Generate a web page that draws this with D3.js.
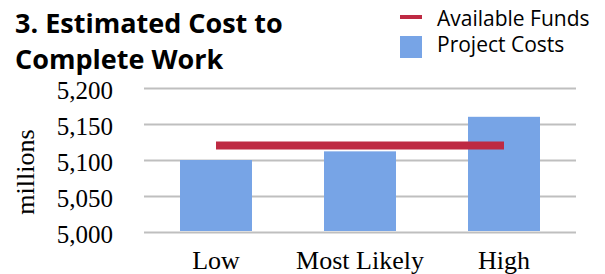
<!DOCTYPE html>
<html>
<head>
<meta charset="utf-8">
<script src="https://cdn.jsdelivr.net/npm/d3@7"></script>
<style>
  body { margin: 0; background: #fff; }
  svg { display: block; }
</style>
</head>
<body>
<div id="chart"></div>
<script>
// chart values
var categories = ["Low", "Most Likely", "High"];
var projectCosts = [5100, 5112, 5160];
var availableFunds = [5120, 5120, 5120];
var yTicks = [5000, 5050, 5100, 5150, 5200];
var titleLines = ["3. Estimated Cost to", "Complete Work"];
var seriesNames = ["Available Funds", "Project Costs"];

var W = 605, H = 274;
var margin = {top: 88, right: 29, bottom: 42, left: 144},
    width = W - margin.left - margin.right,
    height = H - margin.top - margin.bottom;

var svg = d3.select("#chart")
  .append("svg")
    .attr("width", W)
    .attr("height", H);

var g = svg.append("g")
    .attr("transform", "translate(" + margin.left + "," + margin.top + ")");

// scales
var x = d3.scaleBand()
  .domain(categories)
  .range([0, width])
  .paddingInner(0.5)
  .paddingOuter(0.25);

var y = d3.scaleLinear()
  .domain([5000, 5200])
  .range([height, 0]);

// Y axis + gridlines
var yAxis = g.append("g")
  .call(d3.axisLeft(y)
    .tickValues(yTicks)
    .tickFormat(d3.format(","))
    .tickSize(-width)
    .tickPadding(31));
yAxis.select(".domain").remove();
yAxis.selectAll(".tick line")
  .attr("stroke", "#bfbfbf")
  .attr("stroke-width", 2);
yAxis.selectAll(".tick text")
  .attr("dy", "0.4em")
  .style("font-family", "'Liberation Serif', serif")
  .style("font-size", "25px")
  .style("fill", "#000");

// bars
g.selectAll("rect.bar")
  .data(projectCosts)
  .enter()
  .append("rect")
    .attr("class", "bar")
    .attr("x", function(d, i) { return x(categories[i]); })
    .attr("y", function(d) { return y(d); })
    .attr("width", x.bandwidth())
    .attr("height", function(d) { return y(5000) - y(d) - 1; })
    .style("fill", "#77a4e6");

// funds line
var line = d3.line()
  .x(function(d, i) { return x(categories[i]) + x.bandwidth() / 2; })
  .y(function(d) { return y(d); });

g.append("path")
  .datum(availableFunds)
  .attr("d", line)
  .attr("fill", "none")
  .attr("stroke", "#be2a43")
  .attr("stroke-width", 8);

// X axis
var xAxis = g.append("g")
  .attr("transform", "translate(0," + height + ")")
  .call(d3.axisBottom(x).tickSize(0).tickPadding(18.5));
xAxis.select(".domain").remove();
xAxis.selectAll(".tick text")
  .style("font-family", "'Liberation Serif', serif")
  .style("font-size", "26px")
  .style("fill", "#000");

// y label
svg.append("text")
  .attr("transform", "translate(33.5,172) rotate(-90)")
  .attr("text-anchor", "middle")
  .style("font-family", "'Liberation Serif', serif")
  .style("font-size", "26px")
  .text("millions");

// title
svg.selectAll("text.title")
  .data(titleLines)
  .enter()
  .append("text")
    .attr("class", "title")
    .attr("x", 15)
    .attr("y", function(d, i) { return 33 + i * 36; })
    .style("font-family", "'Open Sans', sans-serif")
    .style("font-weight", "bold")
    .style("font-size", "27px")
    .style("fill", "#000")
    .text(function(d) { return d; });

// legend
var legend = svg.append("g");
legend.append("rect")
  .attr("x", 400).attr("y", 15)
  .attr("width", 22).attr("height", 4)
  .style("fill", "#be2a43");
legend.append("rect")
  .attr("x", 400).attr("y", 36)
  .attr("width", 22).attr("height", 22)
  .style("fill", "#77a4e6");
legend.selectAll("text")
  .data(seriesNames)
  .enter()
  .append("text")
    .attr("x", 437)
    .attr("y", function(d, i) { return 26 + i * 26; })
    .style("font-family", "'Open Sans', sans-serif")
    .style("font-size", "21px")
    .style("fill", "#000")
    .text(function(d) { return d; });
</script>
</body>
</html>
